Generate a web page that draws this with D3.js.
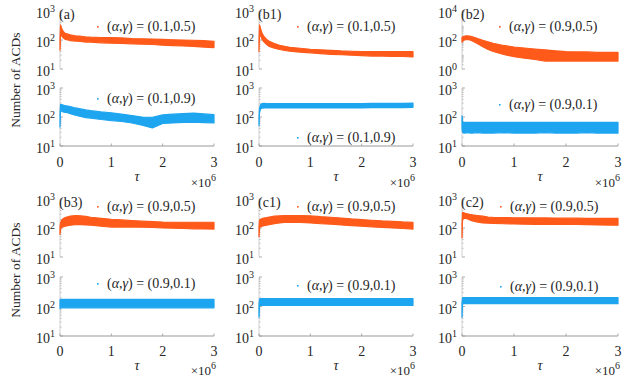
<!DOCTYPE html>
<html lang="en">
<head>
<meta charset="UTF-8">
<title>ACD panels</title>
<style>
body { margin: 0; background: #fff; }
text { font-family: "Liberation Serif", "Times New Roman", serif; fill: #262626; }
</style>
</head>
<body>
<script src="https://cdn.jsdelivr.net/npm/d3@7/dist/d3.min.js"></script>
<script>
// tau sample points (x 10^6)
var tau = [0, 0.01, 0.03, 0.06, 0.1, 0.15, 0.2, 0.3, 0.4, 0.5, 0.6, 0.8, 1.0, 1.2, 1.4, 1.6, 1.8, 2.0, 2.2, 2.4, 2.6, 2.8, 3.0];

// band (low / high) of each scatter cloud
var aTopLo  = [45, 150, 140, 120, 105, 100, 95, 92, 90, 85, 85, 80, 78, 76, 74, 72, 70, 66, 64, 62, 60, 57, 55];
var aTopHi  = [120, 330, 260, 200, 170, 160, 150, 140, 135, 128, 125, 122, 120, 118, 112, 110, 108, 105, 102, 100, 98, 95, 90];
var aBotLo  = [45, 150, 160, 150, 145, 140, 130, 115, 105, 95, 92, 82, 75, 70, 62, 52, 42, 60, 62, 65, 66, 64, 62];
var aBotHi  = [140, 270, 270, 260, 245, 240, 230, 205, 190, 175, 165, 150, 140, 125, 112, 100, 98, 118, 125, 130, 135, 128, 120];

var b1TopLo = [40, 200, 140, 105, 85, 70, 60, 52, 47, 44, 41, 38, 36, 34, 32, 31, 30, 29, 28, 28, 27, 27, 26];
var b1TopHi = [100, 330, 250, 170, 130, 105, 90, 75, 66, 60, 56, 52, 48, 46, 44, 42, 41, 40, 40, 40, 40, 40, 40];
var b1BotLo = [50, 140, 190, 200, 205, 205, 205, 205, 205, 205, 205, 205, 205, 205, 205, 205, 205, 205, 210, 210, 210, 210, 215];
var b1BotHi = [95, 200, 270, 290, 295, 290, 290, 290, 290, 290, 290, 290, 290, 290, 290, 290, 290, 290, 295, 295, 295, 295, 300];

var b2TopLo = [70, 80, 95, 105, 110, 100, 85, 55, 35, 22, 16, 10, 7, 5.5, 4.5, 3.5, 3.5, 3.5, 3.5, 3.5, 3.5, 3.5, 3.5];
var b2TopHi = [150, 160, 175, 190, 195, 185, 165, 125, 95, 75, 60, 42, 33, 28, 24, 21, 18, 16, 15, 15, 14, 14, 14];
var b2BotLo = [40, 30, 28, 28, 29, 28, 28, 29, 28, 28, 28, 29, 28, 28, 28, 29, 28, 28, 28, 29, 28, 28, 28];
var b2BotHi = [110, 70, 66, 65, 66, 65, 65, 66, 65, 65, 66, 65, 65, 66, 65, 65, 66, 65, 65, 66, 65, 65, 66];

var b3TopLo = [60, 90, 105, 110, 115, 120, 125, 130, 130, 128, 125, 115, 108, 108, 108, 106, 104, 100, 98, 96, 94, 93, 92];
var b3TopHi = [110, 150, 185, 210, 230, 245, 255, 270, 265, 250, 235, 215, 200, 190, 180, 172, 165, 160, 158, 158, 158, 158, 158];
var b3BotLo = [85, 90, 90, 90, 90, 90, 90, 90, 90, 90, 90, 90, 90, 90, 90, 90, 90, 90, 90, 90, 90, 90, 90];
var b3BotHi = [170, 175, 175, 175, 175, 175, 175, 175, 175, 175, 175, 175, 175, 175, 175, 175, 175, 175, 175, 175, 175, 175, 175];

var c1TopLo = [50, 100, 110, 115, 120, 125, 130, 140, 150, 155, 155, 155, 150, 140, 135, 128, 120, 115, 110, 105, 100, 96, 92];
var c1TopHi = [110, 185, 200, 210, 220, 230, 240, 255, 265, 270, 270, 270, 262, 245, 235, 220, 205, 195, 185, 175, 170, 162, 158];
var c1BotLo = [43, 105, 108, 108, 108, 108, 108, 108, 108, 108, 108, 108, 108, 108, 108, 108, 108, 108, 108, 108, 108, 108, 108];
var c1BotHi = [120, 180, 185, 185, 185, 185, 185, 185, 185, 185, 185, 185, 185, 185, 185, 185, 185, 185, 185, 185, 185, 185, 185];

var c2TopLo = [46, 180, 220, 215, 210, 190, 175, 160, 150, 146, 144, 140, 138, 136, 134, 134, 132, 132, 132, 130, 128, 126, 125];
var c2TopHi = [120, 340, 340, 320, 310, 295, 285, 270, 255, 240, 232, 228, 225, 224, 222, 222, 220, 218, 218, 216, 216, 215, 215];
var c2BotLo = [43, 120, 125, 125, 125, 125, 125, 125, 125, 125, 125, 125, 125, 125, 125, 125, 125, 125, 125, 125, 125, 125, 125];
var c2BotHi = [130, 195, 200, 200, 200, 200, 200, 200, 200, 200, 200, 200, 200, 200, 200, 200, 200, 200, 200, 200, 200, 200, 200];

var panelTags = ["(a)", "(b1)", "(b2)", "(b3)", "(c1)", "(c2)"];
var topParams = ["(0.1,0.5)", "(0.1,0.5)", "(0.9,0.5)", "(0.9,0.5)", "(0.9,0.5)", "(0.9,0.5)"];
var botParams = ["(0.1,0.9)", "(0.1,0.9)", "(0.9,0.1)", "(0.9,0.1)", "(0.9,0.1)", "(0.9,0.1)"];
var xTicks = [0, 1, 2, 3];
var yTicksStd = [10, 100, 1000];
var yTicksWide = [1, 100, 10000];

var orange = "#ff5a1a", blue = "#1ea5f0";

var topBands = [[aTopLo, aTopHi], [b1TopLo, b1TopHi], [b2TopLo, b2TopHi], [b3TopLo, b3TopHi], [c1TopLo, c1TopHi], [c2TopLo, c2TopHi]];
var botBands = [[aBotLo, aBotHi], [b1BotLo, b1BotHi], [b2BotLo, b2BotHi], [b3BotLo, b3BotHi], [c1BotLo, c1BotHi], [c2BotLo, c2BotHi]];

// layout
var cols = [[60, 214], [259, 413], [462, 618]];
var rows = [
    { top: [11, 69], bot: [88, 146], tickY: 167, tauY: 181, expY: 187, labelY: 80 },
    { top: [199, 257], bot: [277, 336], tickY: 356, tauY: 370, expY: 375, labelY: 270 }
];
// legend anchor [x, topY, botY] per panel
var legendPos = [[107, 31, 103], [307, 31, 142], [509, 31, 109], [107, 211, 288], [307, 211, 290], [510, 211, 291]];

var svg = d3.select("body").append("svg")
    .attr("width", 623)
    .attr("height", 379);

rows.forEach(function(r) {
    svg.append("text")
        .attr("transform", "translate(20," + r.labelY + ") rotate(-90)")
        .attr("text-anchor", "middle")
        .style("font-size", "13.5px")
        .text("Number of ACDs");
});

function yLabel(g, x, y, v) {
    var e = Math.round(Math.log10(v));
    var t = g.append("text")
        .attr("x", x).attr("y", y + 7)
        .attr("text-anchor", "end")
        .style("font-size", "14px");
    t.append("tspan").text("10");
    t.append("tspan").attr("dy", -6).style("font-size", "10px").text(e);
}

function legend(g, x, y, param, color) {
    g.append("rect").attr("x", x - 10).attr("y", y - 5).attr("width", 1.6).attr("height", 1.6).attr("fill", color);
    var t = g.append("text").attr("x", x).attr("y", y).style("font-size", "14px");
    t.append("tspan").text("(");
    t.append("tspan").style("font-style", "italic").text("\u03b1");
    t.append("tspan").text(",");
    t.append("tspan").style("font-style", "italic").text("\u03b3");
    t.append("tspan").text(") = " + param);
}

function subplot(g, x, yRange, domain, ticks, band, color, withX) {
    var y = d3.scaleLog().domain(domain).range([yRange[1], yRange[0]]);
    var x0 = x.range()[0];

    // minor ticks
    var decades = d3.range(Math.round(Math.log10(domain[0])), Math.round(Math.log10(domain[1])));
    decades.forEach(function(d) {
        for (var k = 2; k < 10; k++) {
            var v = k * Math.pow(10, d);
            g.append("line").attr("x1", x0).attr("x2", x0 + 1.5)
                .attr("y1", y(v)).attr("y2", y(v))
                .attr("stroke", "#aaa").attr("stroke-width", 0.8);
        }
    });
    g.append("line").attr("x1", x0).attr("x2", x0)
        .attr("y1", yRange[0]).attr("y2", yRange[1])
        .attr("stroke", "#c4c4c4").attr("stroke-width", 0.8);
    ticks.forEach(function(v) {
        g.append("line").attr("x1", x0).attr("x2", x0 + 3)
            .attr("y1", y(v)).attr("y2", y(v))
            .attr("stroke", "#999").attr("stroke-width", 0.8);
        yLabel(g, x0 - 5, y(v), v);
    });

    if (withX) {
        g.append("line").attr("x1", x0).attr("x2", x.range()[1])
            .attr("y1", yRange[1]).attr("y2", yRange[1])
            .attr("stroke", "#999").attr("stroke-width", 1);
        xTicks.forEach(function(v) {
            g.append("line").attr("x1", x(v)).attr("x2", x(v))
                .attr("y1", yRange[1]).attr("y2", yRange[1] - 2.5)
                .attr("stroke", "#999").attr("stroke-width", 0.8);
        });
    }

    var pts = tau.map(function(t, i) { return { t: t, lo: band[0][i], hi: band[1][i] }; });
    var area = d3.area()
        .x(function(d) { return x(d.t); })
        .y0(function(d) { return y(d.lo); })
        .y1(function(d) { return y(d.hi); });
    g.append("path").datum(pts)
        .attr("d", area)
        .attr("fill", color)
        .attr("stroke", color)
        .attr("stroke-width", 1.2)
        .attr("stroke-linejoin", "round");
}

panelTags.forEach(function(tag, i) {
    var r = rows[Math.floor(i / 3)];
    var c = cols[i % 3];
    var g = svg.append("g");
    var x = d3.scaleLinear().domain([0, 3]).range(c);

    var wide = (tag === "(b2)");
    subplot(g, x, r.top, wide ? [1, 10000] : [10, 1000], wide ? yTicksWide : yTicksStd, topBands[i], orange, false);
    subplot(g, x, r.bot, [10, 1000], yTicksStd, botBands[i], blue, true);

    xTicks.forEach(function(v) {
        g.append("text").attr("x", x(v)).attr("y", r.tickY)
            .attr("text-anchor", "middle").style("font-size", "14px").text(v);
    });
    g.append("text").attr("x", (c[0] + c[1]) / 2).attr("y", r.tauY)
        .attr("text-anchor", "middle").style("font-size", "14px").style("font-style", "italic")
        .text("\u03c4");
    var ex = g.append("text").attr("x", c[1] + 2).attr("y", r.expY)
        .attr("text-anchor", "end").style("font-size", "13px");
    ex.append("tspan").text("\u00d710");
    ex.append("tspan").attr("dy", -6).style("font-size", "10px").text("6");

    g.append("text").attr("x", c[0] - 1).attr("y", r.top[0] + 8)
        .style("font-size", "14px").text(tag);

    var lp = legendPos[i];
    legend(g, lp[0], lp[1], topParams[i], orange);
    legend(g, lp[0], lp[2], botParams[i], blue);
});
</script>
</body>
</html>
